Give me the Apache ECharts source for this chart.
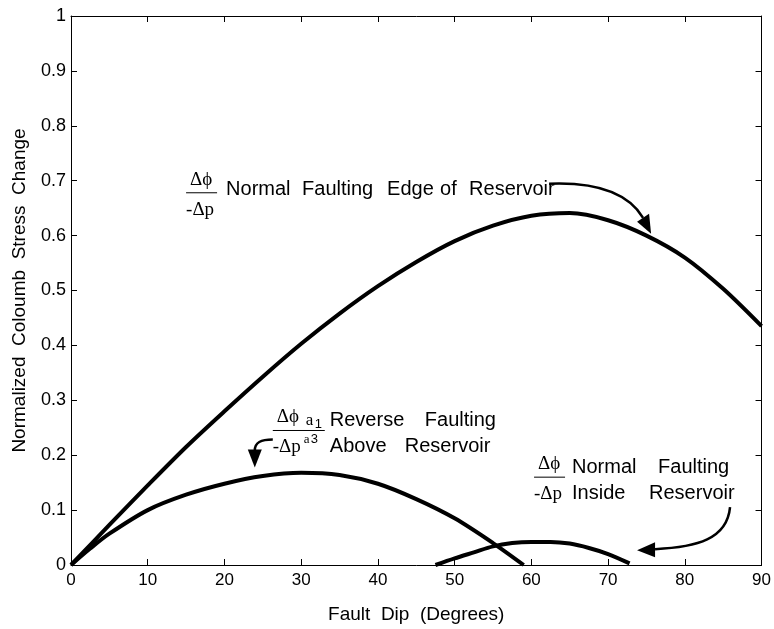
<!DOCTYPE html>
<html>
<head>
<meta charset="utf-8">
<script src="https://cdn.jsdelivr.net/npm/echarts@6/dist/echarts.min.js"></script>
<style>
  html, body { margin: 0; padding: 0; background: #fff; }
  #chart { width: 774px; height: 629px; }
</style>
</head>
<body>
<div id="chart"></div>
<script>
// fault dip (degrees) and normalized stress change
const edgeDip = [0, 5, 10, 15, 20, 25, 30, 35, 40, 45, 50, 55, 60, 65, 70, 75, 80, 85, 90];
const edgeVal = [0, 0.073, 0.145, 0.215, 0.28, 0.343, 0.403, 0.458, 0.508, 0.552, 0.59, 0.618, 0.636, 0.641, 0.628, 0.6, 0.56, 0.503, 0.435];

const aboveDip = [0, 2.5, 5, 10, 15, 20, 25, 30, 35, 40, 45, 50, 55, 59];
const aboveVal = [0, 0.03, 0.057, 0.1, 0.128, 0.148, 0.162, 0.168, 0.164, 0.148, 0.12, 0.085, 0.04, 0];

const insideDip = [47.5, 50, 52.5, 55, 57.5, 60, 62.5, 65, 67.5, 70, 72.8];
const insideVal = [0, 0.012, 0.023, 0.034, 0.04, 0.042, 0.042, 0.039, 0.031, 0.02, 0.003];

const xTicks = [0, 10, 20, 30, 40, 50, 60, 70, 80, 90];
const yTicks = [0, 0.1, 0.2, 0.3, 0.4, 0.5, 0.6, 0.7, 0.8, 0.9, 1];

const SANS = '"Liberation Sans", Arial, sans-serif';
const SERIF = '"Liberation Serif", "Times New Roman", serif';

const chart = echarts.init(document.getElementById('chart'));

const pairs = (xs, ys) => xs.map((x, i) => [x, ys[i]]);

const axisCommon = {
    type: 'value',
    axisLine: { show: true, onZero: false, lineStyle: { color: '#000', width: 1 } },
    axisTick: { show: true, inside: true, length: 6, lineStyle: { color: '#000' } },
    splitLine: { show: false },
};

const curve = (data) => ({
    type: 'line',
    data: data,
    smooth: 0.3,
    symbol: 'none',
    lineStyle: { color: '#000', width: 4 },
    xAxisIndex: 0,
    yAxisIndex: 0,
});

chart.setOption({
    animation: false,
    backgroundColor: '#fff',
    grid: { left: 71, top: 16, right: 8, bottom: 63 },
    xAxis: [
        Object.assign({}, axisCommon, {
            position: 'bottom', min: xTicks[0], max: xTicks[xTicks.length - 1], interval: 10,
            axisLabel: { color: '#000', fontSize: 17, fontFamily: SANS, margin: 7 },
            name: 'Fault  Dip  (Degrees)',
            nameLocation: 'middle',
            nameGap: 40,
            nameTextStyle: { color: '#000', fontSize: 19, fontFamily: SANS },
        }),
        Object.assign({}, axisCommon, {
            position: 'top', min: 0, max: 90, interval: 10,
            axisLabel: { show: false },
        }),
    ],
    yAxis: [
        Object.assign({}, axisCommon, {
            position: 'left', min: yTicks[0], max: yTicks[yTicks.length - 1], interval: 0.1,
            axisLabel: { color: '#000', fontSize: 18, fontFamily: SANS, margin: 5 },
            name: 'Normalized  Coloumb  Stress  Change',
            nameLocation: 'middle',
            nameGap: 42,
            nameTextStyle: { color: '#000', fontSize: 19, fontFamily: SANS },
        }),
        Object.assign({}, axisCommon, {
            position: 'right', min: 0, max: 1, interval: 0.1,
            axisLabel: { show: false },
        }),
    ],
    series: [
        curve(pairs(edgeDip, edgeVal)),
        curve(pairs(aboveDip, aboveVal)),
        curve(pairs(insideDip, insideVal)),
    ],
});

// annotations: anchor in data space (left end of the fraction bar), rest as pixel offsets
const px = (d) => chart.convertToPixel({ xAxisIndex: 0, yAxisIndex: 0 }, d);

function txt(x, y, s, size, family, align) {
    return {
        type: 'text', x: x, y: y, silent: true,
        style: { text: s, font: size + 'px ' + family, fill: '#000', align: align || 'left', verticalAlign: 'middle' },
    };
}

function bar(x, y, w) {
    return { type: 'line', silent: true, shape: { x1: x, y1: y, x2: x + w, y2: y }, style: { stroke: '#000', lineWidth: 1 } };
}

function fraction(a) {
    return [
        txt(a[0] + 15, a[1] - 13, 'Δϕ', 19, SERIF, 'center'),
        bar(a[0], a[1], 31),
        txt(a[0] + 14, a[1] + 17, '-Δp', 19, SERIF, 'center'),
    ];
}

function arrow(p0, c1, c2, p1, tip, b1, b2) {
    return [
        {
            type: 'bezierCurve', silent: true,
            shape: { x1: p0[0], y1: p0[1], cpx1: c1[0], cpy1: c1[1], cpx2: c2[0], cpy2: c2[1], x2: p1[0], y2: p1[1] },
            style: { stroke: '#000', lineWidth: 2.5, fill: null },
        },
        { type: 'polygon', silent: true, shape: { points: [tip, b1, b2] }, style: { fill: '#000' } },
    ];
}

const off = (a, dx, dy) => [a[0] + dx, a[1] + dy];

const a1 = px([15.0, 0.678]);
const a2 = px([26.3, 0.245]);
const a3 = px([60.35, 0.16]);

let els = [];

// Normal faulting, edge of reservoir
els = els.concat(fraction(a1));
els.push(txt(a1[0] + 40, a1[1] - 3, 'Normal', 20, SANS));
els.push(txt(a1[0] + 116, a1[1] - 3, 'Faulting', 20, SANS));
els.push(txt(a1[0] + 201, a1[1] - 3, 'Edge', 20, SANS));
els.push(txt(a1[0] + 254, a1[1] - 3, 'of', 20, SANS));
els.push(txt(a1[0] + 283, a1[1] - 3, 'Reservoir', 20, SANS));
els = els.concat(arrow(off(a1, 363, -9), off(a1, 413, -11), off(a1, 443, 2), off(a1, 457, 25),
    off(a1, 465, 41), off(a1, 451, 29), off(a1, 463, 21)));

// Reverse faulting, above reservoir
els.push(txt(a2[0] + 15, a2[1] - 13, 'Δϕ', 19, SERIF, 'center'));
els.push(txt(a2[0] + 33, a2[1] - 10, 'a', 17, SERIF));
els.push(txt(a2[0] + 42, a2[1] - 6, '1', 13, SANS));
els.push(bar(a2[0], a2[1], 52));
els.push(txt(a2[0] + 14, a2[1] + 17, '-Δp', 19, SERIF, 'center'));
els.push(txt(a2[0] + 31, a2[1] + 9, 'a', 13, SERIF));
els.push(txt(a2[0] + 38, a2[1] + 9, '3', 13, SANS));
els.push(txt(a2[0] + 57, a2[1] - 10, 'Reverse', 20, SANS));
els.push(txt(a2[0] + 152, a2[1] - 10, 'Faulting', 20, SANS));
els.push(txt(a2[0] + 57, a2[1] + 16, 'Above', 20, SANS));
els.push(txt(a2[0] + 132, a2[1] + 16, 'Reservoir', 20, SANS));
els = els.concat(arrow(off(a2, 0, 9), off(a2, -12, 9), off(a2, -18, 12), off(a2, -18, 20),
    off(a2, -18, 37), off(a2, -25, 19), off(a2, -11, 19)));

// Normal faulting, inside reservoir
els = els.concat(fraction(a3));
els.push(txt(a3[0] + 38, a3[1] - 10, 'Normal', 20, SANS));
els.push(txt(a3[0] + 124, a3[1] - 10, 'Faulting', 20, SANS));
els.push(txt(a3[0] + 38, a3[1] + 16, 'Inside', 20, SANS));
els.push(txt(a3[0] + 115, a3[1] + 16, 'Reservoir', 20, SANS));
els = els.concat(arrow(off(a3, 196, 30), off(a3, 193, 62), off(a3, 163, 70), off(a3, 121, 72),
    off(a3, 103, 73), off(a3, 121, 65), off(a3, 121, 80)));

chart.setOption({ graphic: { elements: els } });
</script>
</body>
</html>
